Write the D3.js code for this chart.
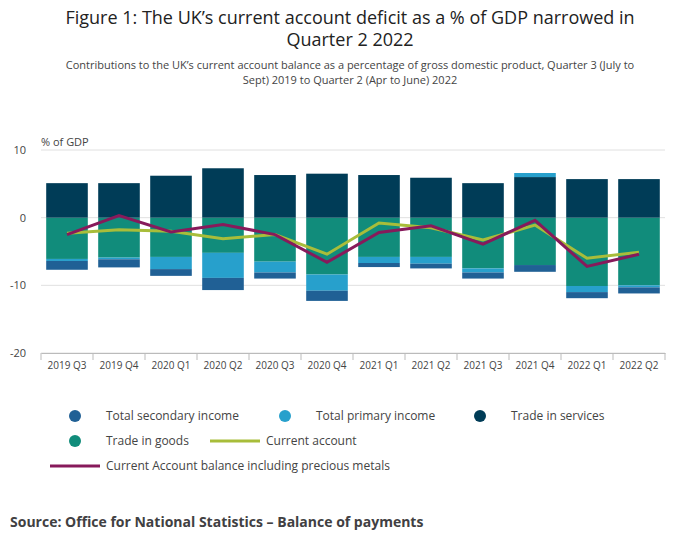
<!DOCTYPE html><html><head><meta charset="utf-8"><script src="https://cdn.jsdelivr.net/npm/d3@7"></script>
<style>body{margin:0;background:#fff;font-family:"Open Sans",sans-serif;}</style></head><body><svg id="c" width="700" height="549"></svg>
<script>
const categories=["2019 Q3","2019 Q4","2020 Q1","2020 Q2","2020 Q3","2020 Q4","2021 Q1","2021 Q2","2021 Q3","2021 Q4","2022 Q1","2022 Q2"];
const secondary=[-1.3,-1.2,-1.0,-1.8,-0.9,-1.5,-0.6,-0.7,-0.9,-1.0,-0.9,-0.9];
const primary=[-0.3,-0.25,-1.8,-3.7,-1.6,-2.4,-0.9,-1.0,-0.6,0.6,-0.9,-0.3];
const services=[5.1,5.1,6.2,7.3,6.3,6.5,6.3,5.9,5.1,6.0,5.7,5.7];
const goods=[-6.1,-5.9,-5.8,-5.2,-6.5,-8.4,-5.8,-5.8,-7.5,-7.0,-10.1,-10.0];
const currentAccount=[-2.3,-1.8,-2.0,-3.1,-2.5,-5.4,-0.8,-1.5,-3.3,-1.1,-6.0,-5.1];
const caPrecious=[-2.5,0.3,-2.1,-1.0,-2.5,-6.6,-2.2,-1.2,-3.9,-0.4,-7.2,-5.4];
const yTicks=[10,0,-10,-20];
const col={sec:"#206095",pri:"#27a0cc",svc:"#003c57",gds:"#118c7b",ca:"#a8bd3a",cap:"#871a5b"};
const svg=d3.select("#c");
svg.append("text").attr("x",350).attr("y",24).attr("text-anchor","middle").attr("font-size",18).attr("fill","#222").text("Figure 1: The UK’s current account deficit as a % of GDP narrowed in");
svg.append("text").attr("x",350).attr("y",46).attr("text-anchor","middle").attr("font-size",18).attr("fill","#222").text("Quarter 2 2022");
svg.append("text").attr("x",350).attr("y",69).attr("text-anchor","middle").attr("font-size",11).attr("fill","#444").text("Contributions to the UK’s current account balance as a percentage of gross domestic product, Quarter 3 (July to");
svg.append("text").attr("x",350).attr("y",84).attr("text-anchor","middle").attr("font-size",11).attr("fill","#444").text("Sept) 2019 to Quarter 2 (Apr to June) 2022");
const x=d3.scaleBand().domain(categories).range([41,665]).paddingInner(0.2).paddingOuter(0.1);
const y=d3.scaleLinear().domain([-20,10]).range([353,150]);
svg.append("text").attr("x",41).attr("y",146).attr("font-size",11).attr("fill","#444").text("% of GDP");
yTicks.forEach(t=>{svg.append("line").attr("x1",41).attr("x2",665).attr("y1",y(t)).attr("y2",y(t)).attr("stroke","#e0e0e0");
svg.append("text").attr("x",26).attr("y",y(t)+4).attr("text-anchor","end").attr("font-size",11).attr("fill","#444").text(t);});
const xa=svg.append("g").attr("transform",`translate(0,353)`).call(d3.axisBottom(x).tickSize(0).tickPadding(9));
xa.select(".domain").attr("stroke","#bbb");xa.selectAll("text").attr("font-size",10).attr("fill","#444").attr("font-family","Open Sans");
const w=x.step();
categories.forEach((c,i)=>svg.append("line").attr("x1",41+w*i).attr("x2",41+w*i).attr("y1",353).attr("y2",360).attr("stroke","#bbb"));
svg.append("line").attr("x1",665).attr("x2",665).attr("y1",353).attr("y2",360).attr("stroke","#bbb");
const series=[["gds",goods],["svc",services],["pri",primary],["sec",secondary]];
categories.forEach((c,i)=>{let pos=0,neg=0;series.forEach(([k,arr])=>{const v=arr[i];let y0,y1;if(v>=0){y0=pos;y1=pos+v;pos=y1;}else{y0=neg;y1=neg+v;neg=y1;}
svg.append("rect").attr("x",x(c)).attr("width",x.bandwidth()).attr("y",y(Math.max(y0,y1))).attr("height",Math.abs(y(y0)-y(y1))).attr("fill",col[k]);});});
const line=d3.line().x((d,i)=>x(categories[i])+x.bandwidth()/2).y(d=>y(d));
svg.append("path").attr("d",line(currentAccount)).attr("fill","none").attr("stroke",col.ca).attr("stroke-width",3);
svg.append("path").attr("d",line(caPrecious)).attr("fill","none").attr("stroke",col.cap).attr("stroke-width",3);
const leg=[["sec","Total secondary income",75,416,"c"],["pri","Total primary income",285,416,"c"],["svc","Trade in services",480,416,"c"],["gds","Trade in goods",75,441,"c"],["ca","Current account",210,441,"l"],["cap","Current Account balance including precious metals",50,466,"l"]];
leg.forEach(([k,t,lx,ly,type])=>{if(type==="c"){svg.append("circle").attr("cx",lx).attr("cy",ly).attr("r",6).attr("fill",col[k]);svg.append("text").attr("x",lx+31).attr("y",ly+4).attr("font-size",12).attr("fill","#444").text(t);}
else{svg.append("line").attr("x1",lx).attr("x2",lx+50).attr("y1",ly).attr("y2",ly).attr("stroke",col[k]).attr("stroke-width",3);svg.append("text").attr("x",lx+56).attr("y",ly+4).attr("font-size",12).attr("fill","#444").text(t);}});
svg.append("text").attr("x",10).attr("y",527).attr("font-size",14).attr("font-weight","bold").attr("fill","#414042").text("Source: Office for National Statistics – Balance of payments");
</script></body></html>
